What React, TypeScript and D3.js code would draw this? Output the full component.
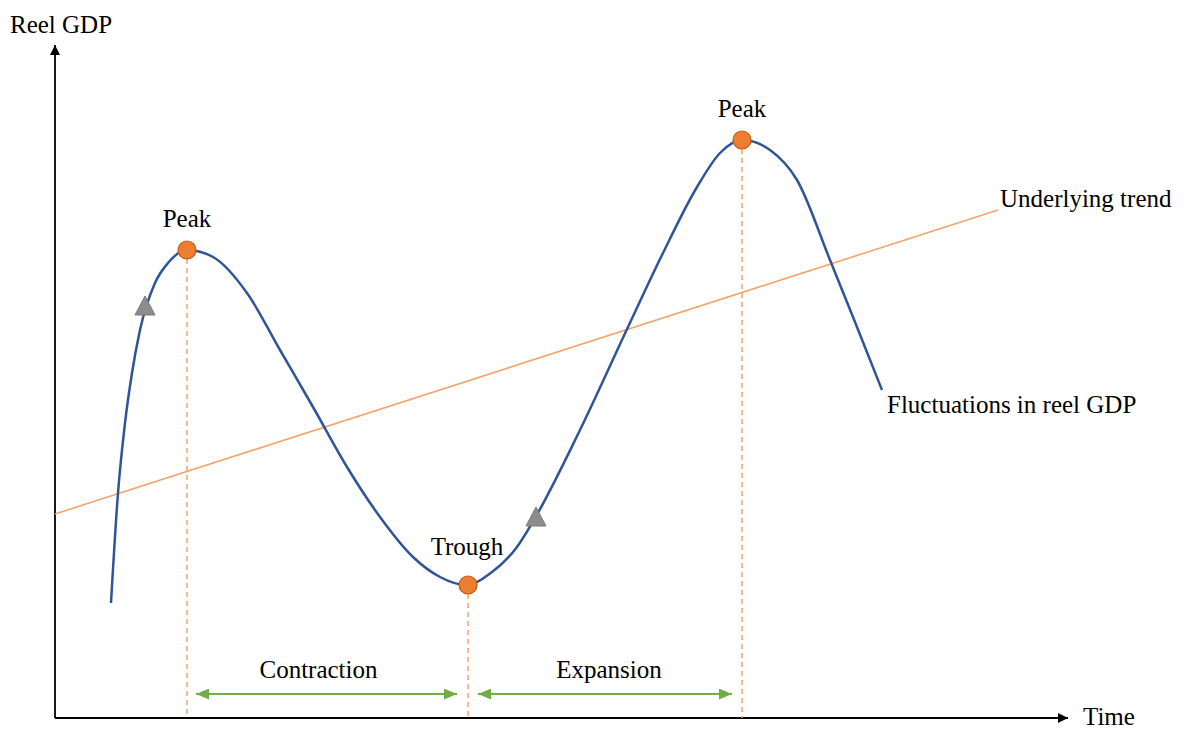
import React from "react";
import * as d3 from "d3";

// Data (time units, GDP units)
const curveTime = [56, 63, 70, 77, 85, 100, 113, 132, 158, 192, 225, 258, 292, 325, 358, 385, 411, 437, 462, 480, 525, 573, 608, 642, 665, 687, 715, 742, 775, 798, 827];
const curveGdp = [115, 225, 295, 345, 388, 435, 455, 468, 461, 425, 368, 311, 251, 201, 161, 141, 133, 146, 171, 200, 288, 391, 465, 531, 565, 578, 568, 538, 458, 401, 328];
const trendTime = [0, 943];
const trendGdp = [204, 508];
const turnLabels = ["Peak", "Trough", "Peak"];
const turnTime = [132, 413, 687];
const turnGdp = [468, 133, 578];
const triTime = [90, 481];
const triGdp = [412, 201];
const phaseLabels = ["Contraction", "Expansion"];
const phaseStart = [141, 423];
const phaseEnd = [402, 677];

const W = 1184, H = 729;

export default function App() {
  const x = d3.scaleLinear().domain([0, 1000]).range([55, 1055]);
  const y = d3.scaleLinear().domain([0, 673]).range([718, 45]);
  const pts: [number, number][] = curveTime.map((t, i) => [t, curveGdp[i]]);
  const line = d3.line<[number, number]>().x(d => x(d[0])).y(d => y(d[1])).curve(d3.curveMonotoneX);
  const fs = 25;
  const axisY = y(0);
  const axisX = x(0);
  const tri = (cx: number, cy: number) => {
    const s = 10;
    return `M${cx},${cy - s} L${cx + s},${cy + s * 0.9} L${cx - s},${cy + s * 0.9} Z`;
  };
  const phaseY = 694;
  const lastIdx = curveTime.length - 1;
  const ts = { fontFamily: "Liberation Serif", fontSize: fs } as React.CSSProperties;
  return (
    <div style={{ position: "absolute", left: 0, top: 0 }}>
      <svg width={W} height={H} fontFamily="Liberation Serif" style={{ display: "block", background: "#fff" }}>
        <style>{`.lbl { font-family: "Liberation Serif", serif !important; font-size: ${fs}px; }`}</style>
        <defs>
          <marker id="blk" viewBox="0 0 10 10" refX="10" refY="5" markerWidth="10" markerHeight="10" markerUnits="userSpaceOnUse" orient="auto-start-reverse">
            <path d="M0,0 L10,5 L0,10 Z" fill="#000" />
          </marker>
          <marker id="grn" viewBox="0 0 12 10" refX="12" refY="5" markerWidth="13" markerHeight="11" markerUnits="userSpaceOnUse" orient="auto-start-reverse">
            <path d="M0,0 L12,5 L0,10 Z" fill="#70AD47" />
          </marker>
        </defs>
        {/* axes */}
        <line x1={axisX} y1={axisY} x2={1068} y2={axisY} stroke="#000" strokeWidth={1.8} markerEnd="url(#blk)" />
        <line x1={axisX} y1={axisY} x2={axisX} y2={45} stroke="#000" strokeWidth={1.8} markerEnd="url(#blk)" />
        <text className="lbl" x={10} y={33} style={ts} fill="#000">Reel GDP</text>
        <text className="lbl" x={1083} y={725} style={ts} fill="#000">Time</text>

        {/* trend */}
        <line x1={x(trendTime[0])} y1={y(trendGdp[0])} x2={x(trendTime[1])} y2={y(trendGdp[1])} stroke="#F4A36B" strokeWidth={1.6} />
        <text className="lbl" x={1000} y={207} style={ts} fill="#000">Underlying trend</text>

        {/* dashed verticals */}
        {turnTime.map((t, i) => (
          <line key={"d" + i} x1={x(t)} y1={y(turnGdp[i])} x2={x(t)} y2={axisY} stroke="#F4A36B" strokeWidth={1.5} strokeDasharray="5,4" />
        ))}

        {/* curve */}
        <path d={line(pts) || ""} fill="none" stroke="#2F5597" strokeWidth={2.5} />
        <text className="lbl" x={x(curveTime[lastIdx]) + 5} y={413} style={ts} fill="#000">Fluctuations in reel GDP</text>

        {/* triangles */}
        {triTime.map((t, i) => (
          <path key={"t" + i} d={tri(x(t), y(triGdp[i]))} fill="#8C8C8C" stroke="#7a7a7a" strokeWidth={1} />
        ))}

        {/* turning points */}
        {turnTime.map((t, i) => (
          <circle key={"c" + i} cx={x(t)} cy={y(turnGdp[i])} r={9} fill="#ED7D31" stroke="#C55A11" strokeWidth={1.2} />
        ))}
        {turnTime.map((t, i) => (
          <text className="lbl" key={"l" + i} x={x(t) + (i === 1 ? -1 : 0)} y={y(turnGdp[i]) - (i === 1 ? 30 : 23)} textAnchor="middle" style={ts} fill="#000">{turnLabels[i]}</text>
        ))}

        {/* phases */}
        {phaseLabels.map((p, i) => (
          <g key={"p" + i}>
            <line x1={x(phaseStart[i])} y1={phaseY} x2={x(phaseEnd[i])} y2={phaseY} stroke="#70AD47" strokeWidth={2} markerStart="url(#grn)" markerEnd="url(#grn)" />
            <text className="lbl" x={(x(phaseStart[i]) + x(phaseEnd[i])) / 2 - (i === 0 ? 8 : -4)} y={678} textAnchor="middle" style={ts} fill="#000">{p}</text>
          </g>
        ))}
      </svg>
    </div>
  );
}
